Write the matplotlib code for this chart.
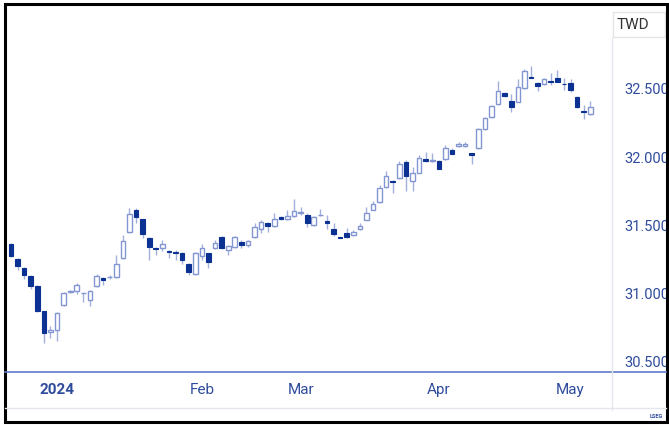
import numpy as np
import pandas as pd
import matplotlib
matplotlib.use('Agg')
import matplotlib.pyplot as plt
from matplotlib.lines import Line2D
from matplotlib.patches import Rectangle

plt.rcParams['font.family'] = ['Roboto', 'DejaVu Sans']

# USD/TWD daily candles, Dec 21 2023 - May 6 2024 (Taipei trading days)
holidays = ['2024-01-01', '2024-02-08', '2024-02-09', '2024-02-12', '2024-02-13',
            '2024-02-14', '2024-02-28', '2024-04-04', '2024-04-05']
dates = pd.bdate_range('2023-12-21', '2024-05-06')
dates = dates[~dates.isin(pd.to_datetime(holidays))]

opens = [31.362, 31.255, 31.191, 31.130, 31.057, 30.874, 30.718, 30.734, 30.915, 31.013,
         31.022, 31.002, 30.954, 31.057, 31.118, 31.123, 31.121, 31.260, 31.450, 31.614,
         31.545, 31.406, 31.337, 31.337, 31.315, 31.308, 31.296, 31.218, 31.145, 31.277,
         31.296, 31.333, 31.418, 31.321, 31.345, 31.381, 31.357, 31.414, 31.472, 31.516,
         31.496, 31.564, 31.545, 31.570, 31.595, 31.577, 31.504, 31.575, 31.533, 31.474,
         31.416, 31.443, 31.430, 31.472, 31.540, 31.614, 31.674, 31.780, 31.828, 31.846,
         31.967, 31.828, 31.887, 31.985, 31.976, 31.975, 31.985, 32.053, 32.082, 32.085,
         32.029, 32.066, 32.207, 32.293, 32.388, 32.473, 32.414, 32.407, 32.505, 32.588,
         32.546, 32.534, 32.559, 32.583, 32.537, 32.546, 32.444, 32.341, 32.315]
highs = [31.370, 31.264, 31.198, 31.137, 31.062, 30.876, 30.764, 30.869, 31.015, 31.024,
         31.081, 31.008, 31.027, 31.145, 31.125, 31.137, 31.284, 31.430, 31.626, 31.626,
         31.547, 31.418, 31.345, 31.394, 31.321, 31.321, 31.304, 31.223, 31.304, 31.362,
         31.298, 31.394, 31.425, 31.357, 31.425, 31.394, 31.394, 31.516, 31.540, 31.528,
         31.589, 31.570, 31.614, 31.692, 31.633, 31.589, 31.570, 31.619, 31.577, 31.516,
         31.418, 31.480, 31.467, 31.521, 31.633, 31.680, 31.797, 31.899, 31.833, 31.975,
         31.980, 31.931, 32.016, 32.036, 32.033, 31.980, 32.090, 32.066, 32.114, 32.114,
         32.033, 32.212, 32.297, 32.383, 32.559, 32.476, 32.461, 32.573, 32.647, 32.669,
         32.554, 32.578, 32.615, 32.639, 32.578, 32.573, 32.446, 32.383, 32.414]
lows = [31.267, 31.174, 31.106, 31.033, 30.869, 30.637, 30.674, 30.656, 30.910, 31.009,
        30.998, 30.942, 30.910, 31.049, 31.064, 31.108, 31.113, 31.257, 31.447, 31.516,
        31.406, 31.247, 31.284, 31.313, 31.260, 31.247, 31.216, 31.137, 31.137, 31.247,
        31.191, 31.328, 31.328, 31.284, 31.335, 31.333, 31.345, 31.412, 31.447, 31.455,
        31.491, 31.540, 31.540, 31.564, 31.577, 31.491, 31.496, 31.570, 31.472, 31.423,
        31.408, 31.406, 31.423, 31.467, 31.538, 31.610, 31.667, 31.773, 31.736, 31.838,
        31.755, 31.755, 31.882, 31.967, 31.967, 31.912, 31.980, 32.022, 32.077, 32.077,
        31.951, 32.058, 32.200, 32.290, 32.383, 32.444, 32.334, 32.403, 32.500, 32.583,
        32.485, 32.529, 32.529, 32.549, 32.493, 32.480, 32.363, 32.280, 32.310]
closes = [31.277, 31.203, 31.135, 31.057, 30.874, 30.715, 30.734, 30.861, 31.008, 31.020,
          31.064, 31.006, 31.020, 31.132, 31.101, 31.126, 31.216, 31.386, 31.584, 31.564,
          31.436, 31.345, 31.326, 31.362, 31.308, 31.296, 31.247, 31.157, 31.296, 31.333,
          31.235, 31.370, 31.333, 31.352, 31.418, 31.357, 31.389, 31.491, 31.528, 31.496,
          31.548, 31.545, 31.570, 31.608, 31.599, 31.521, 31.564, 31.578, 31.516, 31.436,
          31.412, 31.414, 31.455, 31.496, 31.589, 31.655, 31.773, 31.863, 31.816, 31.951,
          31.863, 31.887, 31.992, 31.973, 31.982, 31.914, 32.070, 32.024, 32.097, 32.095,
          32.016, 32.205, 32.290, 32.375, 32.485, 32.449, 32.366, 32.512, 32.632, 32.583,
          32.522, 32.571, 32.549, 32.554, 32.533, 32.490, 32.370, 32.329, 32.366]

yticks = [30.5, 31.0, 31.5, 32.0, 32.5]
month_labels = ['2024', 'Feb', 'Mar', 'Apr', 'May']

dark = '#0b3192'
light = '#8496d2'
wick = '#a3b0dc'
label_blue = '#2f4c9c'

o = np.array(opens)
h = np.array(highs)
l = np.array(lows)
c = np.array(closes)
x = np.arange(len(dates))
up = c >= o

W, H = 669, 425
fig = plt.figure(figsize=(W / 100, H / 100), dpi=100)
ax = fig.add_axes([7 / W, 1 - 372 / H, (612 - 7) / W, (372 - 6) / H])

# wicks first, then bodies on top
ax.vlines(x, l, h, color=wick, lw=1, zorder=1)
ax.bar(x[up], c[up] - o[up], bottom=o[up], width=0.7, facecolor='white',
       edgecolor=light, lw=1, zorder=2)
ax.bar(x[~up], c[~up] - o[~up], bottom=o[~up], width=0.7, facecolor=dark,
       edgecolor=dark, lw=0.8, zorder=2)

ax.set_xlim(-0.6, 91.3)
ax.set_ylim(30.4267, 33.108)

# month ticks on first trading day of each month (2024)
firsts = [i for i in range(1, len(dates)) if dates[i].month != dates[i - 1].month]
ax.set_xticks(firsts)
ax.set_xticklabels(month_labels, fontsize=11, color=label_blue)
ax.get_xticklabels()[0].set_fontweight('bold')
ax.tick_params(axis='x', length=0, pad=8)

ax.yaxis.tick_right()
ax.set_yticks(yticks)
ax.set_yticklabels(['%.3f' % v for v in yticks], fontsize=10.5, color=label_blue)
ax.tick_params(axis='y', length=0, pad=9)

for s in ax.spines.values():
    s.set_visible(False)

# frame lines
fig.add_artist(Line2D([5 / W, 666 / W], [1 - 372 / H] * 2, color='#5f7cc8', lw=1.2))
fig.add_artist(Line2D([612 / W] * 2, [1 - 410 / H, 1 - 38 / H], color='#e4e6ec', lw=1))
fig.add_artist(Line2D([5 / W, 666 / W], [1 - 408 / H] * 2, color='#e4e6ec', lw=1))
fig.add_artist(Rectangle((613 / W, 1 - 37 / H), 52 / W, 25 / H, fill=False,
                         edgecolor='#e4e4e4', lw=1))
fig.text(617 / W, 1 - 25 / H, 'TWD', fontsize=11, color='#333333', va='center')
fig.text(663 / W, 1 - 416 / H, 'LSEG', fontsize=4, color=label_blue,
         ha='right', va='center', fontweight='bold')
fig.add_artist(Rectangle((4.5 / W, 1 - 422 / H), 662 / W, 418 / H, fill=False,
                         edgecolor='black', lw=2.2))

fig.savefig('out.png', dpi=100, facecolor='white')
